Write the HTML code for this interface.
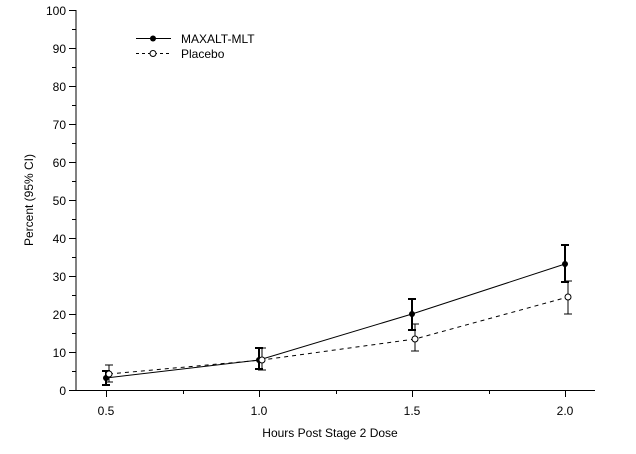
<!DOCTYPE html>
<html><head><style>html,body{margin:0;padding:0;background:#fff}</style></head><body>
<svg width="636" height="449" xmlns="http://www.w3.org/2000/svg" font-family="Liberation Sans, Arial, sans-serif" font-size="12" fill="#000">
<rect width="636" height="449" fill="#fff"/>
<g stroke="#000" stroke-width="1" shape-rendering="crispEdges">
<line x1="76" y1="10" x2="76" y2="391"/>
<line x1="76" y1="390.5" x2="595" y2="390.5"/>
<!-- y ticks -->
<g id="yt">
<line x1="69" x2="76" y1="390.5" y2="390.5"/><line x1="72" x2="76" y1="371.5" y2="371.5"/>
<line x1="69" x2="76" y1="352.5" y2="352.5"/><line x1="72" x2="76" y1="333.5" y2="333.5"/>
<line x1="69" x2="76" y1="314.5" y2="314.5"/><line x1="72" x2="76" y1="295.5" y2="295.5"/>
<line x1="69" x2="76" y1="276.5" y2="276.5"/><line x1="72" x2="76" y1="257.5" y2="257.5"/>
<line x1="69" x2="76" y1="238.5" y2="238.5"/><line x1="72" x2="76" y1="219.5" y2="219.5"/>
<line x1="69" x2="76" y1="200.5" y2="200.5"/><line x1="72" x2="76" y1="181.5" y2="181.5"/>
<line x1="69" x2="76" y1="162.5" y2="162.5"/><line x1="72" x2="76" y1="143.5" y2="143.5"/>
<line x1="69" x2="76" y1="124.5" y2="124.5"/><line x1="72" x2="76" y1="105.5" y2="105.5"/>
<line x1="69" x2="76" y1="86.5" y2="86.5"/><line x1="72" x2="76" y1="67.5" y2="67.5"/>
<line x1="69" x2="76" y1="48.5" y2="48.5"/><line x1="72" x2="76" y1="29.5" y2="29.5"/>
<line x1="69" x2="76" y1="10.5" y2="10.5"/>
</g>
<line x1="106.5" x2="106.5" y1="390" y2="397"/><line x1="183.5" x2="183.5" y1="390" y2="394"/>
<line x1="259.5" x2="259.5" y1="390" y2="397"/><line x1="336.5" x2="336.5" y1="390" y2="394"/>
<line x1="412.5" x2="412.5" y1="390" y2="397"/><line x1="489.5" x2="489.5" y1="390" y2="394"/>
<line x1="565.5" x2="565.5" y1="390" y2="397"/>
</g>
<g text-anchor="end">
<text x="66" y="395">0</text><text x="66" y="357">10</text><text x="66" y="319">20</text>
<text x="66" y="281">30</text><text x="66" y="243">40</text><text x="66" y="205">50</text>
<text x="66" y="167">60</text><text x="66" y="129">70</text><text x="66" y="91">80</text>
<text x="66" y="53">90</text><text x="66" y="15">100</text>
</g>
<g text-anchor="middle">
<text x="106" y="415">0.5</text><text x="259" y="415">1.0</text>
<text x="412" y="415">1.5</text><text x="565" y="415">2.0</text>
<text x="330" y="437">Hours Post Stage 2 Dose</text>
<text transform="translate(33,200) rotate(-90)">Percent (95% CI)</text>
</g>
<!-- placebo -->
<g stroke="#000" fill="none">
<polyline points="109,374 262,360 415,339 568,297" stroke-dasharray="4,4"/>
<path d="M109,365V382M105,365H113M105,382H113 M262,348V370M258,348H266M258,370H266 M415,324V351M411,324H419M411,351H419 M568,281V314M564,281H572M564,314H572"/>
</g>
<!-- maxalt -->
<g stroke="#000" fill="none" stroke-width="1">
<polyline points="106,378 259,360 412,314 565,264"/>
<path stroke-width="2" d="M106,371V385M102,371H110M102,385H110 M259,348V369M255,348H263M255,369H263 M412,299V330M408,299H416M408,330H416 M565,245V282M561,245H569M561,282H569"/>
</g>
<g fill="#000"><circle cx="106" cy="378" r="3"/><circle cx="259" cy="360" r="3"/><circle cx="412" cy="314" r="3"/><circle cx="565" cy="264" r="3"/></g>
<g fill="#fff" stroke="#000"><circle cx="109" cy="374" r="3"/><circle cx="262" cy="360" r="3"/><circle cx="415" cy="339" r="3"/><circle cx="568" cy="297" r="3"/></g>
<!-- legend -->
<line x1="136" x2="171" y1="38.5" y2="38.5" stroke="#000"/>
<circle cx="153" cy="38.5" r="3" fill="#000"/>
<line x1="136" x2="171" y1="53.5" y2="53.5" stroke="#000" stroke-dasharray="3,3"/>
<circle cx="153" cy="53.5" r="3" fill="#fff" stroke="#000"/>
<text x="181" y="43">MAXALT-MLT</text>
<text x="181" y="58">Placebo</text>
</svg>
</body></html>
